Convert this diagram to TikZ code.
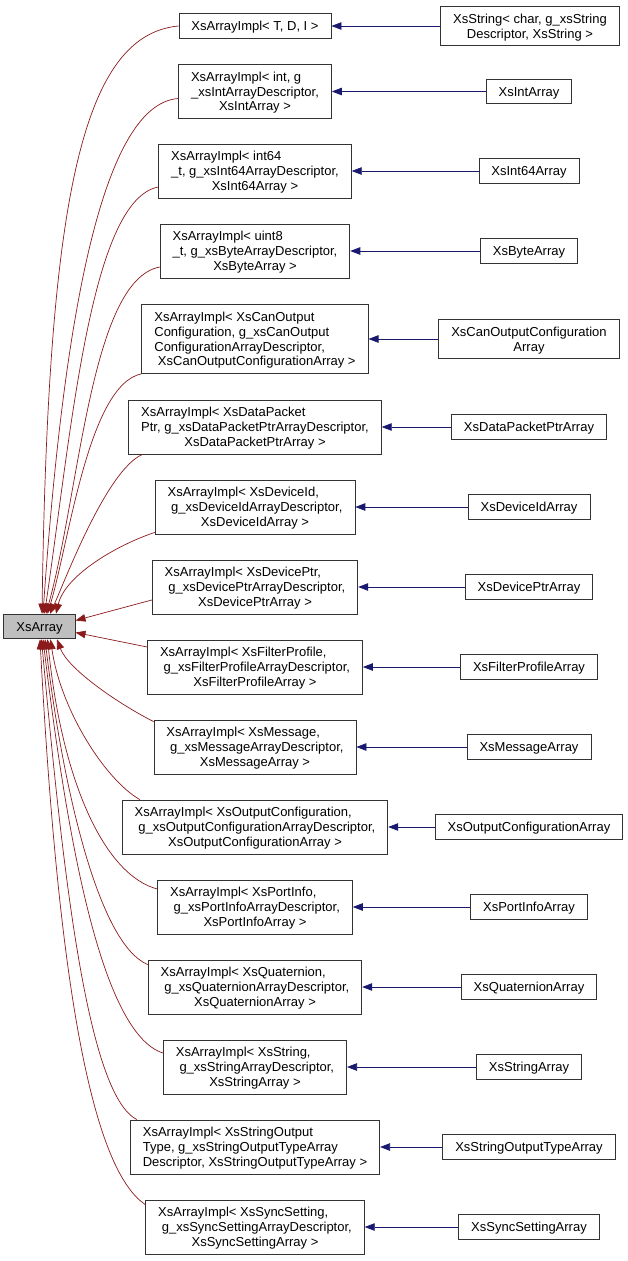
\documentclass[tikz,border=0pt]{standalone}
\usepackage{fontspec}
\setmainfont{Liberation Sans}
\usetikzlibrary{arrows.meta}

\definecolor{inhred}{HTML}{8B1A1A}
\definecolor{tplblue}{HTML}{191970}
\definecolor{basegray}{HTML}{BFBFBF}

% first lines flush left, last line centred
\newcommand{\clines}[2]{\begin{tabular}{@{}l@{}}#1\\\multicolumn{1}{@{}c@{}}{#2}\end{tabular}}
\newcommand{\cname}[1]{\begin{tabular}{@{}c@{}}#1\end{tabular}}

\begin{document}
\begin{tikzpicture}[x=1pt,y=-1pt,
  font={\fontsize{13}{14.7}\selectfont\setbox\strutbox\hbox{\vrule height 12pt depth 2.7pt width 0pt}},
  cls/.style={draw=black!80,line width=0.8pt,inner xsep=12.5pt,inner ysep=5pt},
  inh/.style={-{Triangle[length=10pt,width=7.5pt]},inhred,line width=0.7pt},
  tpl/.style={-{Triangle[length=10pt,width=7.5pt]},tplblue,line width=0.7pt}]
\useasboundingbox (0,0) rectangle (627,1261);

\node[cls,fill=basegray] (xsarray) at (39.5,626.5) {\cname{XsArray}};

% template instances
\node[cls] (impl1) at (255,26) {\cname{XsArrayImpl< T, D, I >}};
\node[cls] (impl2) at (255,91.5) {\clines{XsArrayImpl< int, g\\\_xsIntArrayDescriptor,}{XsIntArray >}};
\node[cls] (impl3) at (255,171) {\clines{XsArrayImpl< int64\\\_t, g\_xsInt64ArrayDescriptor,}{XsInt64Array >}};
\node[cls] (impl4) at (255,251) {\clines{XsArrayImpl< uint8\\\_t, g\_xsByteArrayDescriptor,}{XsByteArray >}};
\node[cls] (impl5) at (255,339) {\clines{XsArrayImpl< XsCanOutput\\Configuration, g\_xsCanOutput\\ConfigurationArrayDescriptor,}{\ XsCanOutputConfigurationArray >}};
\node[cls] (impl6) at (255,427) {\clines{XsArrayImpl< XsDataPacket\\Ptr, g\_xsDataPacketPtrArrayDescriptor,}{XsDataPacketPtrArray >}};
\node[cls] (impl7) at (255,507) {\clines{XsArrayImpl< XsDeviceId,\\\ g\_xsDeviceIdArrayDescriptor,}{XsDeviceIdArray >}};
\node[cls] (impl8) at (255,587) {\clines{XsArrayImpl< XsDevicePtr,\\\ g\_xsDevicePtrArrayDescriptor,}{XsDevicePtrArray >}};
\node[cls] (impl9) at (255,667) {\clines{XsArrayImpl< XsFilterProfile,\\\ g\_xsFilterProfileArrayDescriptor,}{XsFilterProfileArray >}};
\node[cls] (impl10) at (255,747) {\clines{XsArrayImpl< XsMessage,\\\ g\_xsMessageArrayDescriptor,}{XsMessageArray >}};
\node[cls] (impl11) at (255,827) {\clines{XsArrayImpl< XsOutputConfiguration,\\\ g\_xsOutputConfigurationArrayDescriptor,}{XsOutputConfigurationArray >}};
\node[cls] (impl12) at (255,907) {\clines{XsArrayImpl< XsPortInfo,\\\ g\_xsPortInfoArrayDescriptor,}{XsPortInfoArray >}};
\node[cls] (impl13) at (255,987) {\clines{XsArrayImpl< XsQuaternion,\\\ g\_xsQuaternionArrayDescriptor,}{XsQuaternionArray >}};
\node[cls] (impl14) at (255,1067) {\clines{XsArrayImpl< XsString,\\\ g\_xsStringArrayDescriptor,}{XsStringArray >}};
\node[cls] (impl15) at (255,1147) {\clines{XsArrayImpl< XsStringOutput\\Type, g\_xsStringOutputTypeArray}{Descriptor, XsStringOutputTypeArray >}};
\node[cls] (impl16) at (255,1227) {\clines{XsArrayImpl< XsSyncSetting,\\\ g\_xsSyncSettingArrayDescriptor,}{XsSyncSettingArray >}};

% derived classes
\node[cls] (leaf1) at (530,26) {\clines{XsString< char, g\_xsString}{Descriptor, XsString >}};
\node[cls] (leaf2) at (529,91.5) {\cname{XsIntArray}};
\node[cls] (leaf3) at (529,171) {\cname{XsInt64Array}};
\node[cls] (leaf4) at (529,251) {\cname{XsByteArray}};
\node[cls] (leaf5) at (529,339) {\clines{XsCanOutputConfiguration}{Array}};
\node[cls] (leaf6) at (529,427) {\cname{XsDataPacketPtrArray}};
\node[cls] (leaf7) at (529,507) {\cname{XsDeviceIdArray}};
\node[cls] (leaf8) at (529,587) {\cname{XsDevicePtrArray}};
\node[cls] (leaf9) at (529,667) {\cname{XsFilterProfileArray}};
\node[cls] (leaf10) at (529,747) {\cname{XsMessageArray}};
\node[cls] (leaf11) at (529,827) {\cname{XsOutputConfigurationArray}};
\node[cls] (leaf12) at (529,907) {\cname{XsPortInfoArray}};
\node[cls] (leaf13) at (529,987) {\cname{XsQuaternionArray}};
\node[cls] (leaf14) at (529,1067) {\cname{XsStringArray}};
\node[cls] (leaf15) at (529,1147) {\cname{XsStringOutputTypeArray}};
\node[cls] (leaf16) at (529,1227) {\cname{XsSyncSettingArray}};

\foreach \k in {1,...,16}
  \draw[tpl] (leaf\k) -- (impl\k);

% inheritance from XsArray, above
\draw[inh] (impl1.west) .. controls +(-97,9) and +(6,-413) .. ([xshift=2.5pt]xsarray.north);
\draw[inh] ([yshift=-7pt]impl2.west) .. controls +(-80,6) and +(19,-273) .. ([xshift=3.5pt]xsarray.north);
\draw[inh] ([yshift=-16pt]impl3.west) .. controls +(-68,13) and +(27,-183) .. ([xshift=5pt]xsarray.north);
\draw[inh] ([yshift=-16pt]impl4.west) .. controls +(-69,13) and +(34,-123) .. ([xshift=6.5pt]xsarray.north);
\draw[inh] (impl5.south west) .. controls +(-53,11) and +(22,-73) .. ([xshift=8pt]xsarray.north);
\draw[inh] ([xshift=14pt]impl6.south west) .. controls +(-36,16) and +(15,-33) .. ([xshift=10.5pt]xsarray.north);
\draw[inh] ([yshift=2pt]impl7.south west) .. controls +(-39,13) and +(9,-38) .. ([xshift=16.5pt]xsarray.north);
\draw[inh] ([yshift=-13pt]impl8.west) -- ([yshift=6pt]xsarray.east);
% and below
\draw[inh] ([yshift=20pt]impl9.west) -- ([yshift=-6pt]xsarray.east);
\draw[inh] ([yshift=-2pt]impl10.north west) .. controls +(-34,-17) and +(11,30) .. ([xshift=17.5pt]xsarray.south);
\draw[inh] ([xshift=18pt]impl11.north west) .. controls +(-35,-20) and +(10,70) .. ([xshift=11pt]xsarray.south);
\draw[inh] ([yshift=18pt]impl12.west) .. controls +(-52,-14) and +(15,145) .. ([xshift=8pt]xsarray.south);
\draw[inh] ([yshift=-5pt]impl13.north west) .. controls +(-49,-20) and +(18,150) .. ([xshift=5.5pt]xsarray.south);
\draw[inh] ([yshift=14pt]impl14.west) .. controls +(-63,-20) and +(23,190) .. ([xshift=3.5pt]xsarray.south);
\draw[inh] ([xshift=7pt]impl15.north west) .. controls +(-50,-25) and +(21,230) .. ([xshift=2pt]xsarray.south);
\draw[inh] ([yshift=-5pt]impl16.north west) .. controls +(-60,-40) and +(16,300) .. ([xshift=0.5pt]xsarray.south);
\end{tikzpicture}
\end{document}
